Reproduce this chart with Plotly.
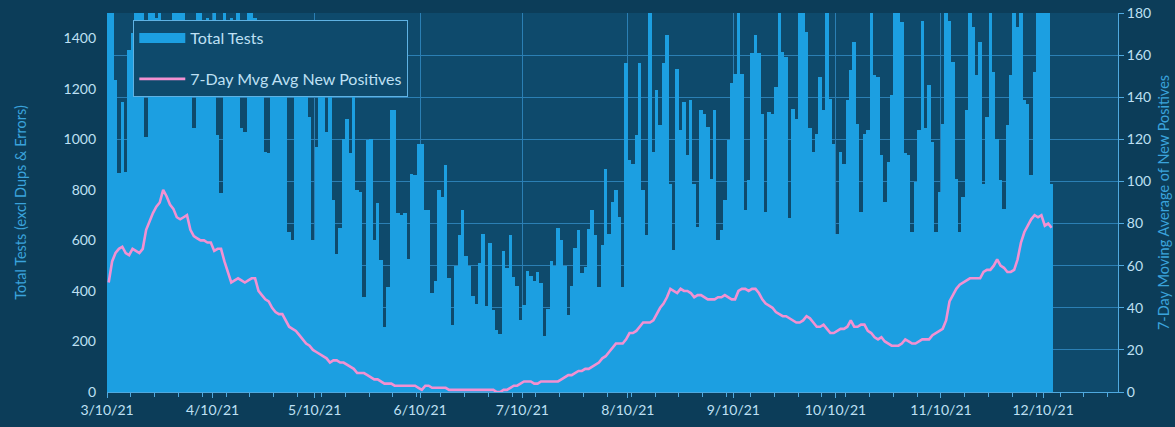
import datetime as dt
import plotly.graph_objects as go

START = dt.date(2021, 3, 10)

# Daily total tests (excl dups & errors); values above 1500 are clipped by the axis
total_tests = [
    1600, 1600, 1234, 866, 1147, 870, 1352, 1420, 1600, 1600, 1560, 1009, 1600, 1600,
    1480, 1600, 1450, 1300, 1250, 1600, 1600, 1600, 1600, 1470, 1350, 1044, 1600, 1600,
    1470, 1480, 1400, 1600, 1016, 787, 1600, 1470, 1480, 1450, 1600, 1044, 1030, 1600,
    1600, 1480, 1470, 1400, 950, 945, 1300, 1400, 1450, 1470, 1350, 633, 601, 1400,
    1450, 1470, 1400, 1088, 600, 970, 1300, 1350, 1030, 1200, 760, 548, 650, 1000,
    1080, 944, 1300, 800, 790, 377, 996, 1000, 600, 748, 522, 258, 417, 1115,
    1115, 707, 700, 710, 528, 864, 860, 983, 980, 720,
    720, 390, 440, 800, 770, 900, 450, 265, 500, 620,
    720, 540, 500, 380, 350, 510, 625, 340, 590, 325,
    245, 230, 560, 490, 620, 455, 420, 285, 345, 480,
    460, 440, 475, 430, 220, 330, 520, 500, 650, 600,
    500, 305, 420, 570, 640, 470,
    496, 647, 720, 620, 417, 581, 884, 627, 752, 799,
    693, 417, 1301, 917, 904, 1016, 1301, 799, 620, 1600,
    950, 1194, 1056, 1301, 1412, 825, 562, 1280, 1036, 1148,
    937, 1155, 825, 654, 1115, 1102, 1049, 845, 1115, 601,
    640, 759, 996, 1221, 1260, 1600, 1260, 720,
    838, 1340, 1412, 1340, 1102, 713, 1108, 1102, 1208, 1600,
    1346, 1326, 687, 1122, 1082, 1600, 1600, 1425, 1043, 950,
    1023, 1247, 1115, 1600, 1161, 983, 627, 950, 904, 1155,
    1274, 1385, 1062, 713, 1023, 1036, 1600, 1254, 1247, 937,
    752, 910, 1174, 1600, 1600, 1465, 944,
    937, 634, 831, 1036, 1470, 1043, 1214, 990, 634, 792,
    1062, 1600, 1470, 1306, 845, 634, 772, 1115, 1600, 1445,
    1254, 1385, 825, 1089, 1600, 1267, 1003, 838, 726, 1056,
    1254, 1600, 1445, 1600, 1155, 1141, 858, 1267, 1600, 1600,
    1600, 1600, 825,
]

# 7-day moving average of new positives (right axis)
mvg_avg = [
    52, 62, 66, 68, 69, 66, 65, 68, 67, 66,
    68, 77, 81, 85, 88, 90, 96, 93, 89, 87,
    83, 82, 83, 84, 77, 74, 73, 72, 72, 71,
    71, 67, 68, 68, 62, 57, 52, 53, 54, 53,
    52, 53, 54, 54, 48, 46, 44, 43, 40, 38,
    37, 37, 34, 31, 30, 29, 27, 25, 23, 22,
    20, 19, 18, 17, 16, 14, 15, 15, 14, 14,
    13, 12, 11, 9, 9, 9, 8, 7, 6, 6,
    5, 4, 4, 4, 3, 3, 3, 3, 3, 3,
    3, 2, 1, 3, 3, 2, 2, 2, 2, 2,
    1, 1, 1, 1, 1, 1, 1, 1, 1, 1,
    1, 1, 1, 1, 0, 0, 1, 1, 2, 3,
    3, 4, 5, 5, 5, 4, 4, 5, 5, 5,
    5, 5, 5, 6, 7, 8, 8, 9, 10, 10,
    11, 11, 12, 13, 14, 16, 17, 19, 21, 23,
    23, 23, 25, 28, 28, 29, 31, 33, 33, 33,
    34, 37, 40, 42, 45, 49, 48, 47, 49, 48,
    48, 47, 45, 46, 46, 45, 44, 44, 44, 45,
    45, 46, 45, 44, 44, 48, 49, 49, 48, 49,
    49, 47, 44, 42, 41, 40, 38, 37, 36, 36,
    35, 34, 33, 33, 34, 36, 35, 33, 31, 31,
    32, 30, 28, 28, 29, 30, 30, 31, 34, 31,
    31, 32, 32, 29, 28, 26, 25, 26, 24, 23,
    22, 22, 22, 23, 25, 24, 23, 23, 24, 25,
    25, 25, 27, 28, 29, 30, 34, 43, 46, 49,
    51, 52, 53, 54, 54, 54, 54, 57, 58, 58,
    60, 63, 60, 59, 57, 57, 58, 63, 71, 76,
    79, 82, 84, 83, 84, 79, 80, 78,
]

tick_dates = ["2021-03-10", "2021-04-10", "2021-05-10", "2021-06-10", "2021-07-10",
              "2021-08-10", "2021-09-10", "2021-10-10", "2021-11-10", "2021-12-10"]
tick_labels = ["3/10/21", "4/10/21", "5/10/21", "6/10/21", "7/10/21",
               "8/10/21", "9/10/21", "10/10/21", "11/10/21", "12/10/21"]

n = min(len(total_tests), len(mvg_avg))
# each day occupies one slot; marks sit at the slot centre (noon)
dates = [dt.datetime.combine(START, dt.time(12)) + dt.timedelta(days=i) for i in range(n)]

PAPER = "#0c3d59"
PLOT = "#0e4a6c"
BAR = "#1c9fe1"
PINK = "#f291d2"
AXIS = "#4fa9df"
GRID = "#2b7fb4"
TICKTXT = "#bfe0f4"
TITLETXT = "#3aa3dc"
FONT = "Lato"

fig = go.Figure()
fig.add_trace(go.Bar(
    x=dates, y=total_tests[:n], name="Total Tests",
    marker=dict(color=BAR, line=dict(width=0)),
    showlegend=False, yaxis="y",
))
# legend entry for the bars, drawn as a wide block like the original
fig.add_trace(go.Scatter(
    x=[None], y=[None], name="Total Tests", mode="lines",
    line=dict(color=BAR, width=11), legendgroup="a", yaxis="y",
))
fig.add_trace(go.Scatter(
    x=dates, y=mvg_avg[:n], name="7-Day Mvg Avg New Positives",
    mode="lines", line=dict(color=PINK, width=2.6),
    legendgroup="b", yaxis="y2",
))

fig.update_layout(
    width=1175, height=427,
    margin=dict(l=107, r=57, t=13, b=35, autoexpand=False),
    paper_bgcolor=PAPER, plot_bgcolor=PLOT,
    bargap=0,
    font=dict(family=FONT, color=TICKTXT, size=14),
    showlegend=True,
    legend=dict(
        x=0.026, y=0.981, xanchor="left", yanchor="top",
        bgcolor=PLOT, bordercolor="#5fb2e3", borderwidth=1,
        font=dict(family=FONT, size=16, color=TICKTXT),
        tracegroupgap=17, itemwidth=46,
    ),
    xaxis=dict(
        type="date", automargin=False,
        range=["2021-03-10", "2022-01-01"],
        tickvals=tick_dates, ticktext=tick_labels,
        showgrid=True, gridcolor=GRID, gridwidth=1,
        showline=True, linecolor=AXIS, linewidth=1,
        ticks="outside", ticklen=5, tickcolor=AXIS,
        minor=dict(dtick=7 * 86400000, tick0="2021-03-10", ticks="outside",
                   ticklen=4, tickcolor=AXIS, showgrid=False),
        tickfont=dict(family=FONT, size=14, color=TICKTXT),
        zeroline=False,
    ),
    yaxis=dict(
        automargin=False,
        range=[0, 1500], tickvals=[0, 200, 400, 600, 800, 1000, 1200, 1400],
        showgrid=False, zeroline=False, showline=False,
        ticks="", ticklabelstandoff=10,
        tickfont=dict(family=FONT, size=14, color=TICKTXT),
        title=dict(text="Total Tests (excl Dups & Errors)",
                   font=dict(family=FONT, size=14.5, color=TITLETXT), standoff=33),
    ),
    yaxis2=dict(
        automargin=False,
        range=[0, 180], dtick=20, overlaying="y", side="right",
        showgrid=True, gridcolor=GRID, gridwidth=1, zeroline=False,
        showline=True, linecolor=AXIS, linewidth=1,
        ticks="outside", ticklen=5, tickcolor=AXIS,
        tickfont=dict(family=FONT, size=14, color=TICKTXT),
        title=dict(text="7-Day Moving Average of New Positives",
                   font=dict(family=FONT, size=14.5, color=TITLETXT), standoff=8),
    ),
)

# place the figure flush with the window (no default page margin)
fig.write_html(
    "out.html",
    config={"displayModeBar": False},
    post_script="document.body.style.margin='0';document.body.style.overflow='hidden';",
)
